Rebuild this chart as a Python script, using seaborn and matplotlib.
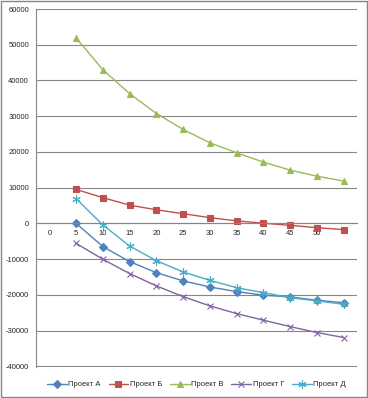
import numpy as np
import pandas as pd
import matplotlib
matplotlib.use('Agg')
import matplotlib.pyplot as plt
from matplotlib.patches import Rectangle
import seaborn as sns

# категории по оси X (последняя без подписи)
categories = ['0', '5', '10', '15', '20', '25', '30', '35', '40', '45', '50', '']
# точки данных стоят в категориях 2..12
proj_a = [0, -6500, -10700, -13800, -16100, -17800, -19100, -20100, -20600, -21500, -22200]
proj_b = [9500, 7200, 5100, 3800, 2700, 1600, 700, 50, -550, -1200, -1750]
proj_v = [51900, 43000, 36300, 30750, 26300, 22550, 19750, 17150, 14900, 13200, 11850]
proj_g = [-5600, -10050, -14050, -17500, -20500, -23100, -25250, -27100, -28900, -30550, -31950]
proj_d = [6900, -450, -6350, -10450, -13600, -15950, -18000, -19400, -20800, -21700, -22650]

names = ['Проект А', 'Проект Б', 'Проект В', 'Проект Г', 'Проект Д']
colors = ['#4F81BD', '#C0504D', '#9BBB59', '#8064A2', '#4BACC6']
markers = ['D', 's', '^', 'x', (6, 2, 0)]
msizes = [4, 5, 5, 5, 6]

sns.set_style('white')
plt.rcParams['font.family'] = ['Liberation Sans', 'DejaVu Sans']

fig = plt.figure(figsize=(3.68, 3.98), dpi=100)
ax = fig.add_axes([36/368, 1-367/398, (357-36)/368, (367-9)/398])

for name, vals, c, m, ms in zip(names, [proj_a, proj_b, proj_v, proj_g, proj_d], colors, markers, msizes):
    xs = np.arange(len(vals)) + 1.5
    sns.lineplot(x=xs, y=vals, color=c, marker=m, markersize=ms, markeredgecolor=c,
                 markeredgewidth=0.8, linewidth=1.0, label=name, ax=ax)

ax.set_xlim(0, len(categories))
ax.set_ylim(-40200, 60000)
ax.set_yticks(np.arange(-40000, 60001, 10000))
ax.set_yticklabels([str(v) for v in range(-40000, 60001, 10000)])
ax.yaxis.grid(True, color='#868686', linewidth=0.8)
ax.set_axisbelow(True)

ax.set_xticks(np.arange(0, len(categories) + 1))
ax.set_xticklabels([])
ax.set_xticks(np.arange(len(categories)) + 0.5, minor=True)
ax.set_xticklabels(categories, minor=True)
ax.tick_params(axis='x', which='major', length=3, direction='out', color='#868686')
ax.tick_params(axis='x', which='minor', length=0, pad=5, labelsize=5.5)
ax.tick_params(axis='y', length=3, direction='out', color='#868686', pad=2, labelsize=5.5)

ax.spines['bottom'].set_position(('data', 0))
ax.spines['bottom'].set_color('#868686')
ax.spines['left'].set_color('#868686')
ax.spines['top'].set_visible(False)
ax.spines['right'].set_visible(False)
ax.set_xlabel('')
ax.set_ylabel('')

ax.legend(loc='upper center', bbox_to_anchor=(0.5, -0.02), ncol=5, frameon=False,
          fontsize=5.5, handlelength=2.6, columnspacing=1.0, handletextpad=0.2)

fig.patches.append(Rectangle((0.003, 0.003), 0.994, 0.994, transform=fig.transFigure,
                             fill=False, edgecolor='#868686', linewidth=1.0))

fig.savefig('out.png', dpi=100)
